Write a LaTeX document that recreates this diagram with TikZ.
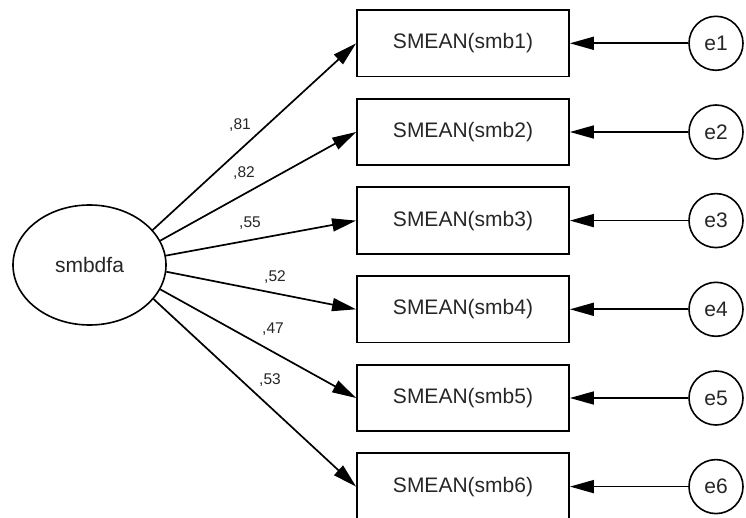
\documentclass[tikz,border=0pt]{standalone}
\usepackage{fontspec}
\setmainfont{Liberation Sans}
\usetikzlibrary{arrows.meta,shapes.geometric}
\begin{document}
\begin{tikzpicture}[x=1pt,y=-1pt,
  every node/.style={text=black!85},
  obsbox/.style={draw=black,line width=1.8pt,minimum width=212pt,minimum height=66.5pt,inner sep=0pt,font=\fontsize{21}{25}\selectfont},
  latent/.style={draw=black,ellipse,line width=1.6pt,minimum width=153pt,minimum height=120pt,inner sep=0pt,font=\fontsize{21}{25}\selectfont},
  errc/.style={draw=black,circle,line width=1.6pt,minimum size=54pt,inner sep=0pt,font=\fontsize{21}{25}\selectfont},
  path/.style={draw=black,line width=1.7pt,-{Triangle[length=24pt,width=13pt]}},
  coef/.style={font=\fontsize{15.5}{18}\selectfont,inner sep=0pt}]
\useasboundingbox (0,0) rectangle (746,518);
\node[latent] (f) at (89.5,265) {smbdfa};
\foreach \i/\y in {1/43.3,2/132,3/220.6,4/309.3,5/398,6/486.6}{
  \node[obsbox] (b\i) at (463,\y) {SMEAN(smb\i)};
  \node[errc] (e\i) at (716,\y) {e\i};
  \draw[path] (e\i.west) -- (b\i.east);
}
\draw[path] (f.29.8) -- (b1.west);
\draw[path] (f.19.5) -- (b2.west);
\draw[path] (f.7.3) -- (b3.west);
\draw[path] (f.-5.9) -- (b4.west);
\draw[path] (f.-19) -- (b5.west);
\draw[path] (f.-28.4) -- (b6.west);
\node[coef] (l1) at (240,125) {,81};
\node[coef] (l2) at (244,173) {,82};
\node[coef] (l3) at (250,223) {,55};
\node[coef] (l4) at (275,277) {,52};
\node[coef] (l5) at (273,329) {,47};
\node[coef] (l6) at (270,380) {,53};
\end{tikzpicture}
\end{document}
